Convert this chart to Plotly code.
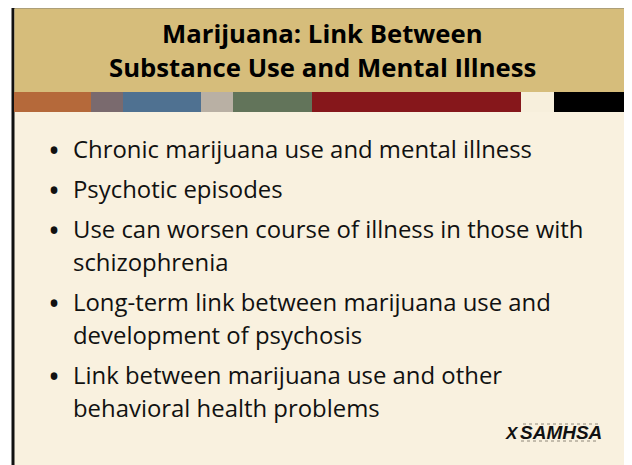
import plotly.graph_objects as go

# slide content
TITLE_LINES = ["Marijuana: Link Between", "Substance Use and Mental Illness"]
BULLETS = [
    ["Chronic marijuana use and mental illness"],
    ["Psychotic episodes"],
    ["Use can worsen course of illness in those with", "schizophrenia"],
    ["Long-term link between marijuana use and", "development of psychosis"],
    ["Link between marijuana use and other", "behavioral health problems"],
]
STRIPE_COLORS = ["#b5693a", "#7a6a6e", "#4f7191", "#b9b0a4", "#62745a",
                 "#86171b", "#f7efdc", "#000000"]
STRIPE_EDGES = [14, 91, 123, 201, 233, 312, 521, 554, 640]

W, H = 632, 465
OFF = 8  # the page body margin shifts the plot by this many pixels
FONT = "'Open Sans', Lato, sans-serif"

fig = go.Figure()

shapes = [
    # slide background and frame
    dict(type="rect", x0=13, x1=630.5, y0=7, y1=480, fillcolor="#f9f1df",
         line=dict(color="#111111", width=3)),
    # title band
    dict(type="rect", x0=14.5, x1=629, y0=8.5, y1=92, fillcolor="#d6bd7b",
         line=dict(width=0)),
]
for c, x0, x1 in zip(STRIPE_COLORS, STRIPE_EDGES[:-1], STRIPE_EDGES[1:]):
    shapes.append(dict(type="rect", x0=x0, x1=x1, y0=92, y1=112,
                       fillcolor=c, line=dict(width=0)))

# fine print around the logo
for y0, x0, x1 in [(424, 523, 598), (441, 521, 596)]:
    shapes.append(dict(type="line", x0=x0, x1=x1, y0=y0, y1=y0,
                       line=dict(color="#8f887b", width=1, dash="dot")))

annotations = []
for i, line in enumerate(TITLE_LINES):
    annotations.append(dict(
        x=322, y=33 + i * 34, text="<b>%s</b>" % line, showarrow=False,
        xanchor="center", yanchor="middle",
        font=dict(family=FONT, size=25.7, color="#000000")))

y = 148.5
for lines in BULLETS:
    annotations.append(dict(
        x=54, y=y + 1, text="•", showarrow=False, xanchor="center", yanchor="middle",
        font=dict(family=FONT, size=32, color="#111111")))
    for j, line in enumerate(lines):
        annotations.append(dict(
            x=71, y=y + j * 33, text=line, showarrow=False,
            xanchor="left", yanchor="middle",
            font=dict(family=FONT, size=23.9, color="#111111")))
    y += (len(lines) - 1) * 33 + 40

# SAMHSA logo
annotations.append(dict(
    x=518, y=432, text="<b><i>SAMHSA</i></b>", showarrow=False,
    xanchor="left", yanchor="middle",
    font=dict(family="'Liberation Sans', Arial, sans-serif", size=19, color="#111111")))
annotations.append(dict(
    x=512, y=433, text="<b><i>X</i></b>", showarrow=False,
    xanchor="center", yanchor="middle",
    font=dict(family="'Liberation Sans', Arial, sans-serif", size=17, color="#111111")))

fig.update_layout(
    width=W, height=H,
    margin=dict(l=0, r=0, t=0, b=0),
    paper_bgcolor="#ffffff", plot_bgcolor="#ffffff",
    xaxis=dict(range=[OFF, W + OFF], visible=False, fixedrange=True),
    yaxis=dict(range=[H + OFF, OFF], visible=False, fixedrange=True),
    shapes=shapes, annotations=annotations, showlegend=False,
)

fig.write_html("out.html", config={"displayModeBar": False})
